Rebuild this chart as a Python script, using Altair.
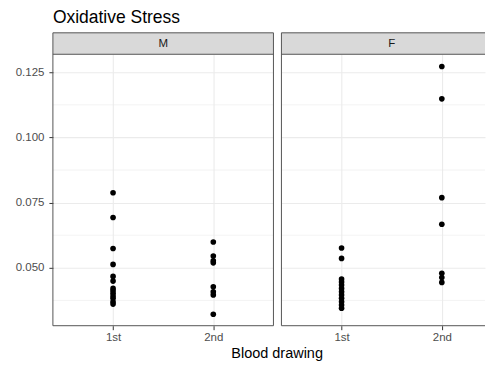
import altair as alt
import pandas as pd

# ---- data ----
drawings = ["1st", "2nd"]
sexes = ["M", "F"]
m_1st = [0.0788, 0.0693, 0.0574, 0.0513, 0.0467, 0.0449, 0.0421, 0.0412, 0.0402, 0.0392, 0.0383, 0.0370, 0.0361]
m_2nd = [0.0599, 0.0545, 0.0527, 0.0519, 0.0427, 0.0408, 0.0396, 0.0322]
f_1st = [0.0576, 0.0536, 0.0457, 0.0446, 0.0434, 0.0421, 0.0408, 0.0396, 0.0383, 0.0370, 0.0357, 0.0345]
f_2nd = [0.1272, 0.1148, 0.0769, 0.0667, 0.0479, 0.0463, 0.0444]
y_major = [0.050, 0.075, 0.100, 0.125]
y_minor = [0.0375, 0.0625, 0.0875, 0.1125]
title_text = "Oxidative Stress"
x_title = "Blood drawing"

FONT = "Liberation Sans"
W_FULL = 221          # full width of a facet panel
W_L, W_R, H = 221, 204, 272   # right panel is cut off by the page edge
STRIP = 21.5
Y_DOMAIN = [0.0278, 0.1319]
X_PER_UNIT = W_FULL / 2.2
BORDER = "#555555"
LEFT_OFF = 44.3   # plot left edge minus page margin
TOP_OFF = 45.5    # plot top edge minus page margin


def points_df(groups):
    rows = []
    for i, vals in enumerate(groups):
        for v in vals:
            rows.append({"x": i + 1, "value": v})
    return pd.DataFrame(rows)


one = pd.DataFrame({"a": [0]})


def panel(sex, groups, width, show_y):
    x_scale = alt.Scale(domain=[0.4, 0.4 + width / X_PER_UNIT], nice=False, zero=False)
    y_scale = alt.Scale(domain=Y_DOMAIN, nice=False, zero=False)
    x_axis = alt.Axis(values=[1, 2], labelExpr="datum.value == 1 ? '1st' : '2nd'",
                      title=None, grid=True, gridColor="#EBEBEB", gridWidth=1.1,
                      tickSize=4, tickColor="#333333", labelColor="#4D4D4D",
                      labelFontSize=11.5, labelPadding=2, domain=False, labelFont=FONT)
    if show_y:
        y_axis = alt.Axis(values=y_major, format=".3f", title=None, grid=True,
                          gridColor="#EBEBEB", gridWidth=1.1, tickSize=4,
                          tickColor="#333333", labelColor="#4D4D4D", labelFontSize=11.5,
                          labelPadding=5, domain=False, labelFont=FONT)
    else:
        y_axis = alt.Axis(values=y_major, title=None, grid=True, gridColor="#EBEBEB",
                          gridWidth=1.1, ticks=False, labels=False, domain=False)

    minor = alt.Chart(pd.DataFrame({"x": [1.0] * len(y_minor), "value": y_minor})).mark_rule(
        color="#EBEBEB", strokeWidth=0.6
    ).encode(
        x=alt.value(0), x2=alt.value(width),
        y=alt.Y("value:Q", scale=y_scale, axis=y_axis),
    )
    pts = alt.Chart(points_df(groups)).mark_circle(size=32, color="black", opacity=1).encode(
        x=alt.X("x:Q", scale=x_scale, axis=x_axis),
        y=alt.Y("value:Q", scale=y_scale, axis=y_axis),
    )
    strip = alt.Chart(one).mark_rect(fill="#D9D9D9").encode(
        x=alt.value(0), x2=alt.value(width), y=alt.value(-STRIP), y2=alt.value(0)
    )
    strip_txt = alt.Chart(one).mark_text(fontSize=11.5, color="#1A1A1A", baseline="middle",
                                        font=FONT).encode(
        x=alt.value(W_FULL / 2), y=alt.value(-STRIP / 2), text=alt.value(sex)
    )
    rules = []
    rules.append(alt.Chart(one).mark_rule(color=BORDER, strokeWidth=1).encode(
        x=alt.value(0), y=alt.value(-STRIP), y2=alt.value(H)))
    if show_y:
        rules.append(alt.Chart(one).mark_rule(color=BORDER, strokeWidth=1).encode(
            x=alt.value(width), y=alt.value(-STRIP), y2=alt.value(H)))
    for yy in (-STRIP, 0, H):
        rules.append(alt.Chart(one).mark_rule(color=BORDER, strokeWidth=1).encode(
            y=alt.value(yy), x=alt.value(0), x2=alt.value(width)))
    layers = [minor, pts, strip, strip_txt] + rules
    if show_y:
        # invisible anchor fixing the top-left corner of the drawing
        layers.append(alt.Chart(one).mark_rule(color="white", strokeWidth=0.01, opacity=0).encode(
            x=alt.value(-LEFT_OFF), y=alt.value(-TOP_OFF), y2=alt.value(-TOP_OFF + 1)))
        layers.append(alt.Chart(one).mark_text(align="left", baseline="top", fontSize=17.5,
                                               color="black", font=FONT).encode(
            x=alt.value(0), y=alt.value(-TOP_OFF), text=alt.value(title_text)))
        layers.append(alt.Chart(one).mark_text(align="center", baseline="alphabetic",
                                               fontSize=14.5, color="black", font=FONT).encode(
            x=alt.value(224.7), y=alt.value(304.8), text=alt.value(x_title)))
    return alt.layer(*layers).properties(width=width, height=H)


left = panel(sexes[0], [m_1st, m_2nd], W_L, True)
right = panel(sexes[1], [f_1st, f_2nd], W_R, False)

chart = alt.hconcat(left, right, spacing=8, bounds="flush").properties(
    padding={"left": 0, "top": 0, "right": 0, "bottom": 0}
).configure(font=FONT).configure_view(stroke=None)

chart.save("out.html", embed_options={"renderer": "svg", "actions": False})
